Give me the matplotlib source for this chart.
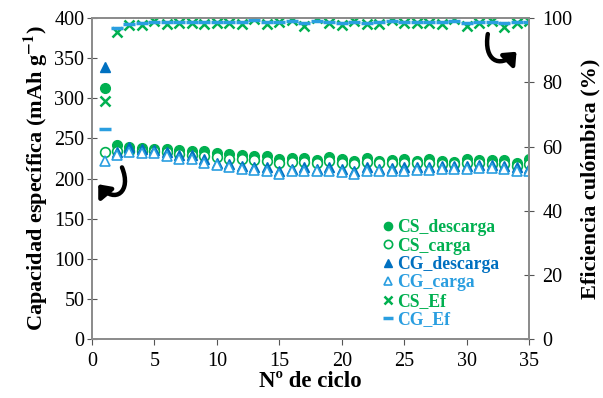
import matplotlib
matplotlib.use("Agg")
import matplotlib.pyplot as plt
from matplotlib.patches import FancyArrowPatch
from matplotlib.path import Path

plt.rcParams['font.family'] = ['Liberation Serif', 'DejaVu Serif']
plt.rcParams['mathtext.fontset'] = 'stix'

ciclo = list(range(1, 36))

cs_descarga = [313, 242, 240, 238, 237, 237, 236, 235, 234, 232, 231, 229, 228, 228, 224, 226, 226,
               223, 227, 224, 222, 226, 222, 223, 224, 222, 224, 222, 221, 224, 223, 223, 223, 220, 224]
cs_carga = [233, 234, 234, 235, 234, 233, 231, 230, 228, 227, 225, 224, 223, 222, 220, 221, 221,
            219, 222, 220, 218, 221, 219, 219, 220, 219, 219, 218, 218, 219, 219, 218, 218, 216, 218]
cg_descarga = [339, 233, 239, 237, 236, 233, 229, 229, 224, 220, 218, 216, 214, 214, 210, 212, 214,
               212, 214, 212, 210, 214, 212, 213, 214, 214, 214, 216, 216, 216, 217, 217, 216, 214, 213]
cg_carga = [222, 229, 233, 232, 232, 228, 225, 225, 220, 217, 214, 212, 211, 210, 206, 209, 210,
            209, 210, 208, 206, 210, 209, 210, 210, 211, 211, 212, 212, 212, 213, 213, 212, 210, 209]
cs_ef = [74.3, 95.7, 97.8, 97.8, 99.2, 98.1, 98.3, 98.3, 98.1, 98.3, 98.3, 98.1, 99.6, 98.1, 98.9,
         99.5, 97.5, 99.9, 98.3, 97.8, 99.0, 98.0, 98.1, 99.5, 98.4, 98.4, 98.4, 98.2, 99.8, 97.6,
         98.4, 99.0, 97.3, 98.5, 99.0]
cg_ef = [65.4, 96.8, 98.2, 98.3, 98.8, 98.6, 98.7, 98.7, 98.6, 98.7, 98.7, 98.6, 99.3, 98.6, 98.8,
         99.0, 98.4, 99.2, 98.7, 98.4, 98.9, 98.5, 98.6, 99.0, 98.7, 98.7, 98.7, 98.6, 99.1, 98.4,
         98.7, 98.9, 98.3, 98.7, 98.9]

verde = '#00b050'
azul = '#0070c0'
azul_claro = '#2a9ee0'

fig = plt.figure(figsize=(6.03, 3.98), dpi=100)
ax = fig.add_axes([0.1526, 0.1475, 0.7247, 0.8073])
ax2 = ax.twinx()

ms = 7
h1, = ax.plot(ciclo, cs_descarga, 'o', color=verde, ms=ms, mec=verde)
h2, = ax.plot(ciclo, cs_carga, 'o', mfc='white', mec=verde, ms=ms, mew=1.2)
h3, = ax.plot(ciclo, cg_descarga, '^', color=azul, ms=ms, mec=azul)
h4, = ax.plot(ciclo, cg_carga, '^', mfc='white', mec=azul_claro, ms=ms, mew=1.2)
h5, = ax2.plot(ciclo, cs_ef, 'x', color=verde, ms=7.5, mew=1.8)
h6, = ax2.plot(ciclo, cg_ef, '_', color=azul_claro, ms=9, mew=2.5)
ax2.set_zorder(ax.get_zorder() + 1)
ax2.patch.set_visible(False)

ax.set_xlim(0, 35)
ax.set_ylim(0, 400)
ax2.set_ylim(0, 100)
ax.set_xticks(range(0, 36, 5))
ax.set_yticks(range(0, 401, 50))
ax2.set_yticks(range(0, 101, 20))

for a in (ax, ax2):
    for s in a.spines.values():
        s.set_color('#8c8c8c')
        s.set_linewidth(1.3)
ax.tick_params(axis='y', direction='inout', length=7, color='#555555', labelsize=14.5, pad=2)
ax.tick_params(axis='x', direction='out', length=4, color='#555555', labelsize=14.5, pad=5)
ax2.tick_params(axis='y', direction='inout', length=7, color='#555555', labelsize=14.5, pad=6)

ax.set_xlabel('Nº de ciclo', fontsize=16.5, fontweight='bold', labelpad=0)
ax.set_ylabel('Capacidad específica (mAh g$^{\\mathbf{-1}}$)', fontsize=16, fontweight='bold', labelpad=3)
ax2.set_ylabel('Eficiencia culómbica (%)', fontsize=16, fontweight='bold', labelpad=6)

colores = [verde, verde, azul, azul_claro, verde, azul_claro]
etiquetas = ['CS_descarga', 'CS_carga', 'CG_descarga', 'CG_carga', 'CS_Ef', 'CG_Ef']
leg = ax2.legend([h1, h2, h3, h4, h5, h6], etiquetas, loc='lower left',
                 bbox_to_anchor=(0.63, -0.015), frameon=False, handlelength=0.6,
                 handletextpad=0.2, labelspacing=0.08, markerscale=0.85,
                 prop={'size': 12.7, 'weight': 'bold'})
for t, c in zip(leg.get_texts(), colores):
    t.set_color(c)

# hook-shaped arrows pointing to each axis
curva = [Path.MOVETO, Path.CURVE4, Path.CURVE4, Path.CURVE4]
flecha_izq = Path([(2.4, 214), (3.2, 184), (1.85, 168), (0.5, 193)], curva)
flecha_der = Path([(31.7, 380), (31.35, 347), (32.65, 337), (34.0, 358)], curva)
for p in (flecha_izq, flecha_der):
    ax.add_patch(FancyArrowPatch(path=p, arrowstyle='-|>,head_width=2.2,head_length=2.6',
                                 color='black', lw=3.2, mutation_scale=2.5, zorder=5))

fig.savefig('out.png', dpi=100)
